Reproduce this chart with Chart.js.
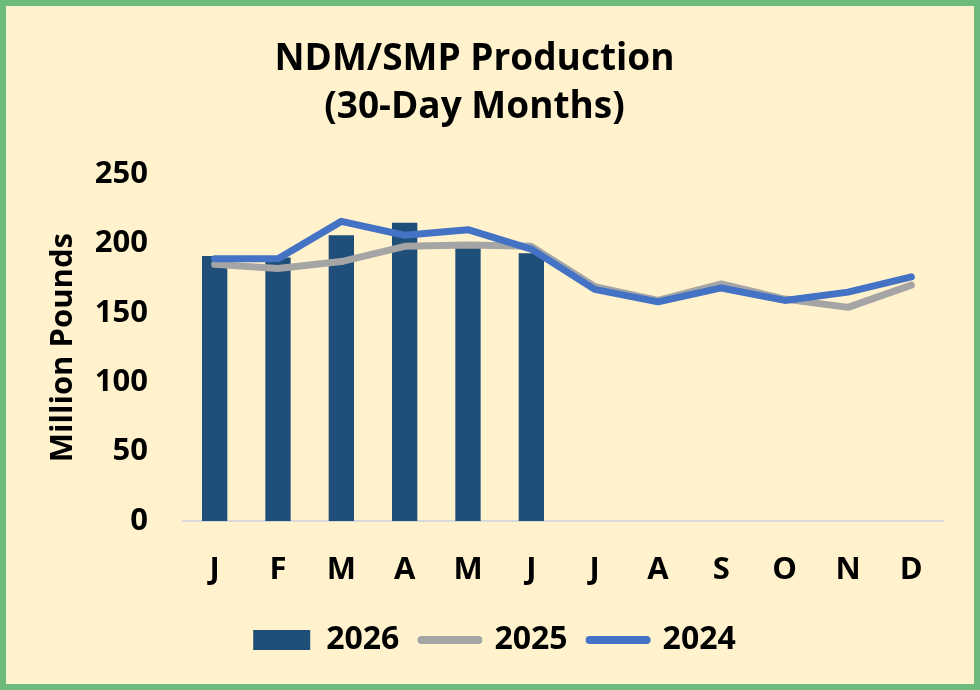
<!DOCTYPE html>
<html>
<head>
<meta charset="utf-8">
<script src="https://cdn.jsdelivr.net/npm/chart.js@4"></script>
<style>
  html, body { margin: 0; padding: 0; background: #fff2cc; }
  #frame {
    width: 980px; height: 690px; box-sizing: border-box;
    border: 6px solid #6dbb7c; background: #fff2cc;
  }
  #wrap { position: relative; width: 968px; height: 678px; }
</style>
</head>
<body>
<div id="frame"><div id="wrap"><canvas id="prodChart"></canvas></div></div>
<script>
// NDM/SMP production, million pounds (30-day months)
const months = ['J', 'F', 'M', 'A', 'M', 'J', 'J', 'A', 'S', 'O', 'N', 'D'];
const prod2026 = [191, 190, 206, 215, 198, 193, null, null, null, null, null, null];
const prod2025 = [185, 182, 187, 198, 199, 198, 169, 159, 171, 160, 154, 170];
const prod2024 = [189, 189, 216, 206, 210, 196, 167, 158, 168, 159, 165, 176];
const yTicks = [0, 50, 100, 150, 200, 250];

const FONT = "'Open Sans', sans-serif";
const ctx = document.getElementById('prodChart').getContext('2d');

// legend sits a little right of centre in the original
const legendNudge = {
    id: 'legendNudge',
    afterLayout: function (chart) {
        chart.legend.left += 20;
        chart.legend.right += 20;
    }
};

const data = {
    labels: months,
    datasets: [
        {
            type: 'bar',
            label: '2026',
            data: prod2026,
            backgroundColor: '#1f4e79',
            categoryPercentage: 1,
            barPercentage: 0.4,
            order: 3
        },
        {
            type: 'line',
            label: '2025',
            data: prod2025,
            borderColor: '#a5a5a5',
            borderWidth: 7,
            pointRadius: 0,
            tension: 0,
            borderCapStyle: 'round',
            borderJoinStyle: 'round',
            order: 2
        },
        {
            type: 'line',
            label: '2024',
            data: prod2024,
            borderColor: '#4472c4',
            borderWidth: 7,
            pointRadius: 0,
            tension: 0,
            borderCapStyle: 'round',
            borderJoinStyle: 'round',
            order: 1
        }
    ]
};

const config = {
    data: data,
    plugins: [legendNudge],
    options: {
        responsive: true,
        maintainAspectRatio: false,
        animation: false,
        layout: { padding: { left: 0, right: 31, top: 0, bottom: 18 } },
        plugins: {
            tooltip: { enabled: false },
            title: {
                display: true,
                text: ['NDM/SMP Production', '(30-Day Months)'],
                color: '#000',
                font: { family: FONT, size: 37, weight: 'bold', lineHeight: 1.3 },
                padding: { top: 29, bottom: 43 }
            },
            legend: {
                position: 'bottom',
                labels: {
                    color: '#000',
                    font: { family: FONT, size: 32, weight: 'bold' },
                    usePointStyle: true,
                    pointStyleWidth: 57,
                    boxHeight: 20,
                    padding: 22,
                    generateLabels: function (chart) {
                        return chart.data.datasets.map(function (ds, i) {
                            const isBar = ds.type === 'bar';
                            return {
                                text: ds.label,
                                datasetIndex: i,
                                fillStyle: isBar ? ds.backgroundColor : ds.borderColor,
                                strokeStyle: isBar ? ds.backgroundColor : ds.borderColor,
                                lineWidth: isBar ? 0 : 8,
                                lineCap: 'round',
                                pointStyle: isBar ? 'rect' : 'line',
                                fontColor: '#000',
                                hidden: false
                            };
                        });
                    }
                }
            }
        },
        scales: {
            x: {
                grid: { display: false, drawTicks: false },
                border: { display: true, color: '#d9d9d9', width: 2 },
                ticks: {
                    color: '#000',
                    font: { family: FONT, size: 31, weight: 'bold' },
                    padding: 31,
                    maxRotation: 0,
                    autoSkip: false
                },
                afterFit: function (scale) { scale.height = 81; }
            },
            y: {
                min: 0,
                max: 250,
                afterBuildTicks: function (scale) {
                    scale.ticks = yTicks.map(function (v) { return { value: v }; });
                },
                grid: { display: false, drawTicks: false },
                border: { display: false },
                ticks: {
                    color: '#000',
                    font: { family: FONT, size: 31, weight: 'bold' },
                    padding: 35
                },
                title: {
                    display: true,
                    text: 'Million Pounds',
                    color: '#000',
                    font: { family: FONT, size: 31, weight: 'bold' },
                    padding: { top: 39, bottom: 0 }
                },
                afterFit: function (scale) { scale.width = 177; }
            }
        }
    }
};

const prodChart = new Chart(ctx, config);
</script>
</body>
</html>
